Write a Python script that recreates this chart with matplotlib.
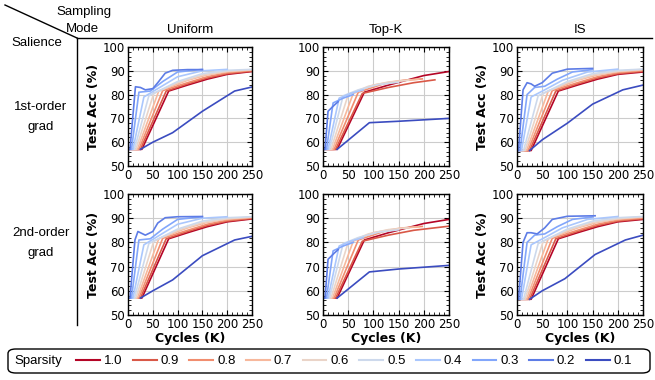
import numpy as np
import matplotlib
matplotlib.use("Agg")
import matplotlib.pyplot as plt
from matplotlib.ticker import AutoMinorLocator, MultipleLocator
from matplotlib.patches import FancyBboxPatch
from matplotlib.lines import Line2D

sparsity = [1.0, 0.9, 0.8, 0.7, 0.6, 0.5, 0.4, 0.3, 0.2, 0.1]
sampling_modes = ["Uniform", "Top-K", "IS"]
salience = ["1st-order\ngrad", "2nd-order\ngrad"]

# (cycles in K, test acc %), one entry per sparsity
uniform_1st = {
    1.0: ([0, 28, 82, 120, 160, 200, 250], [57, 57, 81.5, 84, 86.5, 88.5, 89.7]),
    0.9: ([0, 25, 77, 120, 160, 200, 250], [57, 57, 81.5, 84.5, 87, 88.8, 89.9]),
    0.8: ([0, 22, 70, 120, 160, 200, 250], [57, 57, 81.7, 85, 87.5, 89.2, 90.2]),
    0.7: ([0, 19, 62, 120, 160, 200, 250], [57, 57, 81.5, 86, 88.3, 89.6, 90.4]),
    0.6: ([0, 16, 52, 100, 150, 200, 250], [57, 57, 80.5, 85, 88.2, 89.8, 90.5]),
    0.5: ([0, 13, 42, 100, 150, 200, 250], [57, 57, 79.5, 85.5, 88.8, 90.2, 90.6]),
    0.4: ([0, 10, 32, 60, 100, 150, 200], [57, 57, 79, 82.5, 87.5, 90, 90.6]),
    0.3: ([0, 7, 22, 45, 70, 100, 150], [57, 57, 81, 81.5, 85.5, 89.5, 90.6]),
    0.2: ([0, 4, 15, 25, 35, 50, 60, 75, 90, 120, 150],
          [57, 57, 83.3, 83, 82, 82.5, 85, 89, 90.2, 90.5, 90.5]),
    0.1: ([25, 50, 90, 150, 215, 250], [57, 60, 64, 73, 81.5, 83.2]),
}
uniform_2nd = dict(uniform_1st)
uniform_2nd[0.2] = ([0, 4, 14, 20, 35, 50, 60, 75, 100, 150],
                    [57, 57, 81, 84.5, 83, 84.5, 88, 90.2, 90.6, 90.7])
uniform_2nd[0.1] = ([25, 50, 90, 150, 215, 250], [57, 60, 64.5, 74.5, 81, 82.5])

topk_1st = {
    1.0: ([0, 28, 82, 130, 200, 250], [57, 57, 81, 84, 88, 89.7]),
    0.9: ([0, 25, 78, 130, 180, 222], [57, 57, 80.5, 83, 85, 86.2]),
    0.8: ([0, 22, 70, 120, 160, 197], [57, 57, 81, 84.5, 86, 86.6]),
    0.7: ([0, 19, 60, 100, 150, 190], [57, 57, 80.5, 84, 85.8, 86.5]),
    0.6: ([0, 16, 50, 90, 130, 170], [57, 57, 80, 83.5, 85.3, 86]),
    0.5: ([0, 13, 40, 70, 110, 150], [57, 57, 79.5, 82, 84.2, 85.2]),
    0.4: ([0, 10, 32, 55, 80], [57, 57, 78.5, 80.5, 82]),
    0.3: ([0, 7, 20, 40, 60], [57, 57, 76.5, 78.5, 80]),
    0.2: ([0, 4, 10, 22, 30], [57, 57, 73, 75.5, 77]),
    0.1: ([28, 92, 150, 250], [57, 68.2, 68.8, 70]),
}
topk_2nd = dict(topk_1st)
topk_2nd[1.0] = ([0, 28, 82, 130, 200, 250], [57, 57, 81, 84, 87.8, 89.5])
topk_2nd[0.9] = ([0, 25, 78, 130, 180, 250], [57, 57, 80.5, 83, 85, 86.7])
topk_2nd[0.1] = ([28, 92, 150, 250], [57, 67.8, 69, 70.5])

is_1st = {
    1.0: ([0, 28, 82, 120, 160, 200, 250], [56.5, 56.5, 81.5, 84, 86.5, 88.5, 89.5]),
    0.9: ([0, 25, 77, 120, 160, 200, 250], [56.5, 56.5, 81.5, 84.5, 87, 88.8, 89.8]),
    0.8: ([0, 22, 70, 120, 160, 200, 250], [56.5, 56.5, 81.7, 85, 87.5, 89.2, 90.1]),
    0.7: ([0, 19, 62, 120, 160, 200, 250], [56.5, 56.5, 81.5, 86, 88.3, 89.6, 90.4]),
    0.6: ([0, 16, 52, 100, 150, 200, 250], [56.5, 56.5, 80.5, 85, 88.2, 89.8, 90.6]),
    0.5: ([0, 13, 42, 100, 150, 200, 250], [56.5, 56.5, 79.5, 85.5, 88.8, 90.2, 90.7]),
    0.4: ([0, 9, 28, 55, 90, 140, 200], [56.5, 56.5, 79, 82, 86, 89.5, 90.7]),
    0.3: ([0, 6, 20, 35, 55, 80, 110, 150], [56.5, 56.5, 80, 83, 83.5, 86.5, 89.5, 90.5]),
    0.2: ([0, 3, 12, 20, 28, 35, 50, 70, 100, 150],
          [56.5, 56.5, 82, 85, 84.5, 83.5, 85, 89, 90.7, 91]),
    0.1: ([25, 50, 100, 150, 210, 250], [56.5, 61, 68, 76, 82, 84]),
}
is_2nd = dict(is_1st)
is_2nd[0.2] = ([0, 3, 12, 20, 28, 40, 55, 70, 100, 155],
               [56.5, 56.5, 80, 84, 84, 83.5, 86, 89.5, 90.8, 91])
is_2nd[0.1] = ([25, 50, 95, 155, 215, 250], [56.5, 60, 65, 75, 81, 83])

panels = [[uniform_1st, topk_1st, is_1st], [uniform_2nd, topk_2nd, is_2nd]]

# coolwarm over its full range, red = dense
cmap = plt.cm.coolwarm
colors = [cmap(v) for v in np.linspace(1, 0, 10)]

plt.rcParams['font.family'] = ['Liberation Sans', 'DejaVu Sans']
fig = plt.figure(figsize=(6.55, 3.8), dpi=100)
W, H = 655.0, 380.0

col_left = [128, 323, 517]
col_w = [124, 126, 126]
row_top = [47, 194]
row_h = [119, 121]

for r in range(2):
    for c in range(3):
        ax = fig.add_axes([col_left[c] / W, 1 - (row_top[r] + row_h[r]) / H,
                           col_w[c] / W, row_h[r] / H])
        data = panels[r][c]
        for s, col in zip(sparsity, colors):
            xs, ys = data[s]
            ax.plot(xs, ys, color=col, lw=1.2)
        ax.set_xlim(0, 250)
        ax.set_ylim(50, 100)
        ax.xaxis.set_major_locator(MultipleLocator(50))
        ax.yaxis.set_major_locator(MultipleLocator(10))
        ax.xaxis.set_minor_locator(AutoMinorLocator(5))
        ax.yaxis.set_minor_locator(AutoMinorLocator(5))
        ax.tick_params(which='both', direction='in', top=True, right=True,
                       labelsize=8.5, pad=2)
        for lab in ax.get_xticklabels() + ax.get_yticklabels():
            lab.set_family('DejaVu Sans')
        ax.tick_params(which='major', length=3.5)
        ax.tick_params(which='minor', length=2)
        ax.grid(True, which='major', color='#cccccc', lw=0.8)
        ax.set_axisbelow(True)
        for sp in ax.spines.values():
            sp.set_linewidth(1.0)
        if c != 1:
            ax.set_ylabel("Test Acc (%)", fontsize=9, fontweight='bold',
                          family='DejaVu Sans', labelpad=2)
        if r == 1:
            ax.set_xlabel("Cycles (K)", fontsize=9, fontweight='bold',
                          family='DejaVu Sans', labelpad=1)

# header texts
for c, name in enumerate(sampling_modes):
    fig.text((col_left[c] + col_w[c] / 2) / W, 1 - 30 / H, name,
             ha='center', va='center', fontsize=9.5)
fig.text(84 / W, 1 - 12 / H, "Sampling", ha='center', va='center', fontsize=9.5)
fig.text(82 / W, 1 - 29 / H, "Mode", ha='center', va='center', fontsize=9.5)
fig.text(37 / W, 1 - 43 / H, "Salience", ha='center', va='center', fontsize=9.5)
for yc, lab in zip([117, 243], salience):
    fig.text(41 / W, 1 - yc / H, lab, ha='center', va='center', fontsize=9.5,
             linespacing=1.9)

# table lines
fig.add_artist(Line2D([5 / W, 77 / W], [1 - 5 / H, 1 - 38 / H], color='black', lw=1))
fig.add_artist(Line2D([77 / W, 652 / W], [1 - 38 / H, 1 - 38 / H], color='black', lw=1))
fig.add_artist(Line2D([77 / W, 77 / W], [1 - 38 / H, 1 - 325 / H], color='black', lw=1))

# legend box
box = FancyBboxPatch((8 / W, 1 - 373 / H), 642 / W, 24 / H,
                     boxstyle="round,pad=0,rounding_size=0.012",
                     transform=fig.transFigure, fill=False, ec='black', lw=1)
fig.add_artist(box)
fig.text(14 / W, 1 - 361 / H, "Sparsity", ha='left', va='center', fontsize=9.5)
handles = [Line2D([], [], color=col, lw=1.5) for col in colors]
fig.legend(handles, [str(s) for s in sparsity], ncol=10, frameon=False,
           loc='center left', bbox_to_anchor=(76 / W, 1 - 361 / H),
           fontsize=9.5, handlelength=1.8, handletextpad=0.3, columnspacing=0.8,
           borderpad=0, borderaxespad=0)

fig.savefig("out.png", dpi=100)
